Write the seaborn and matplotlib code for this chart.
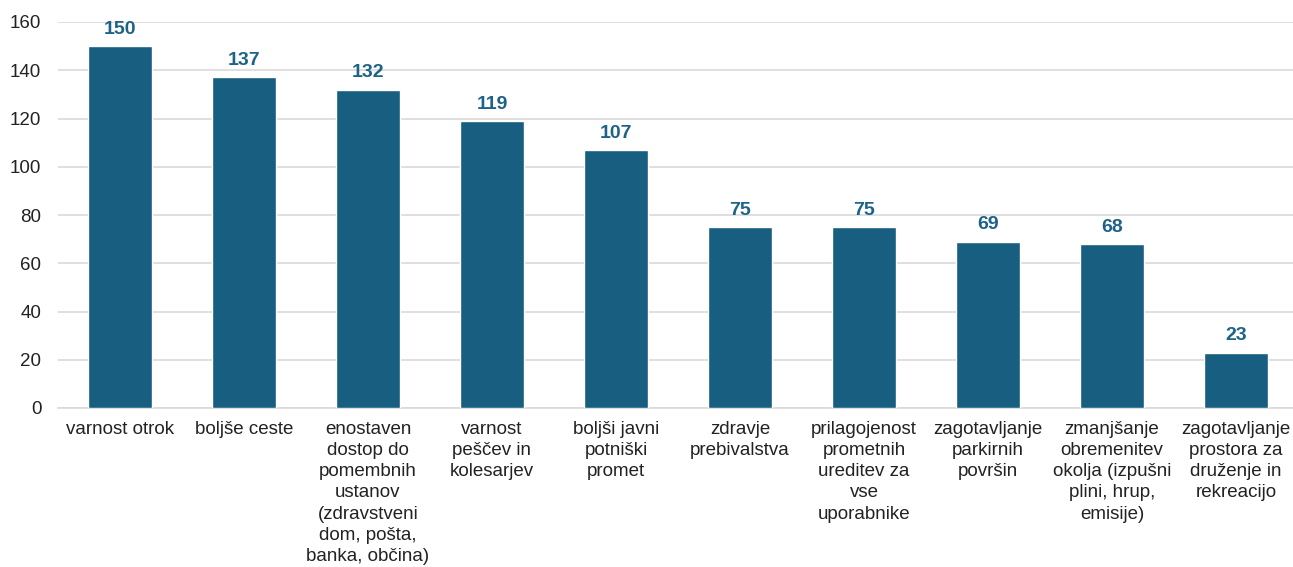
import matplotlib
matplotlib.use("Agg")
import matplotlib.pyplot as plt
import seaborn as sns
import pandas as pd
import matplotlib.patheffects as pe

categories = [
    "varnost otrok",
    "boljše ceste",
    "enostaven\ndostop do\npomembnih\nustanov\n(zdravstveni\ndom, pošta,\nbanka, občina)",
    "varnost\npeščev in\nkolesarjev",
    "boljši javni\npotniški\npromet",
    "zdravje\nprebivalstva",
    "prilagojenost\nprometnih\nureditev za\nvse\nuporabnike",
    "zagotavljanje\nparkirnih\npovršin",
    "zmanjšanje\nobremenitev\nokolja (izpušni\nplini, hrup,\nemisije)",
    "zagotavljanje\nprostora za\ndruženje in\nrekreacijo",
]
values = [150, 137, 132, 119, 107, 75, 75, 69, 68, 23]
yticks = [0, 20, 40, 60, 80, 100, 120, 140, 160]

sns.set_theme(style="white")
plt.rcParams['font.family'] = ['Liberation Sans', 'DejaVu Sans']

df = pd.DataFrame({"cat": categories, "val": values})

fig = plt.figure(figsize=(12.93, 5.67), dpi=100)
ax = fig.add_axes([58/1293, 1 - 408/567, 1240/1293, (408 - 22)/567])

bar_color = "#175e80"
sns.barplot(data=df, x="cat", y="val", color=bar_color, width=0.51,
            saturation=1, ax=ax, zorder=3)
for p in ax.patches:
    p.set_path_effects([pe.SimplePatchShadow(offset=(0, 0), shadow_rgbFace="#bbbbbb", alpha=0.5), pe.Normal()])

for i, v in enumerate(values):
    ax.annotate(str(v), (i, v), xytext=(0, 6), textcoords="offset points",
                ha="center", va="bottom", fontsize=14, fontweight="bold",
                color="#1d6387")

ax.set_ylim(0, 160)
ax.set_xlim(-0.5, len(values) - 0.5)
ax.set_yticks(yticks)
ax.yaxis.grid(True, color="#d9d9d9", linewidth=1.2, zorder=0)
ax.set_axisbelow(True)
for s in ["top", "right", "left"]:
    ax.spines[s].set_visible(False)
ax.spines["bottom"].set_color("#d9d9d9")
ax.spines["bottom"].set_linewidth(1.2)
ax.set_xlabel("")
ax.set_ylabel("")
ax.tick_params(axis="y", length=0, pad=12, labelsize=13.5, labelcolor="#222222")
ax.tick_params(axis="x", length=0, pad=9, labelsize=13.5, labelcolor="#222222")
for lab in ax.get_xticklabels():
    lab.set_linespacing(1.33)
    lab.set_ha("center")

fig.savefig("out.png", dpi=100, facecolor="white")
